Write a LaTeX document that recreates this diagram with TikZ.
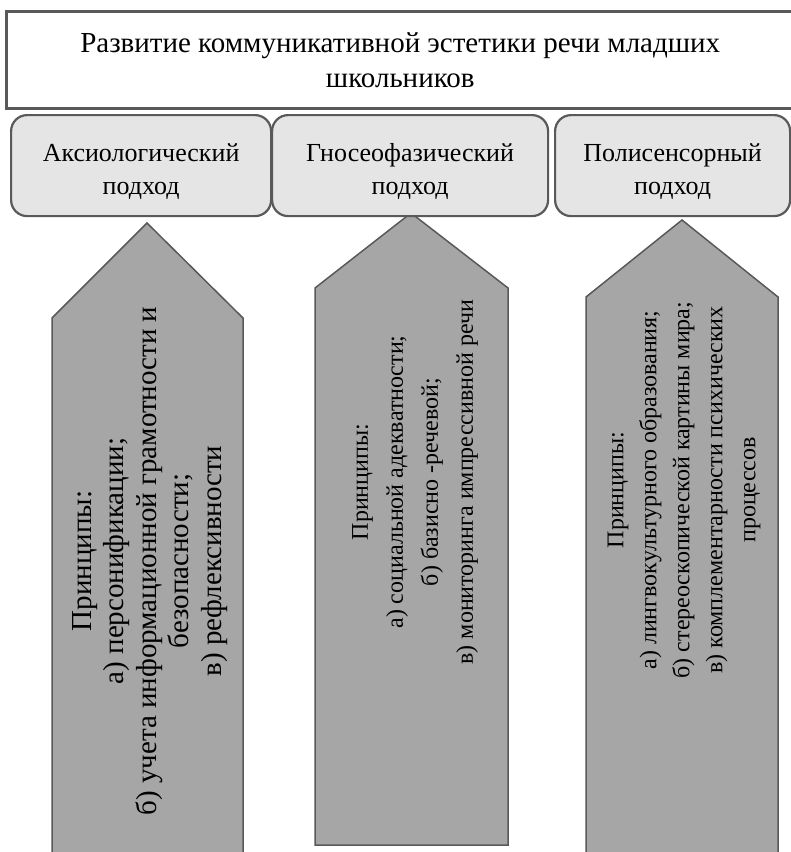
\documentclass[tikz,border=0pt]{standalone}
\usepackage{fontspec}
\setmainfont{Liberation Serif}
\begin{document}
\begin{tikzpicture}[x=1pt, y=-1pt]
    \tikzstyle{title_style} = [draw=black!65, line width=2.5pt, fill=white, inner sep=0pt, minimum width=788pt, minimum height=97pt, anchor=north west, align=center, font=\fontsize{29}{35}\selectfont]
    \tikzstyle{approach_style} = [draw=black!65, line width=2.2pt, fill=black!10, rounded corners=16pt, inner sep=0pt, minimum height=101pt, anchor=north west]
    \tikzstyle{approach_label} = [align=center, inner sep=0pt, yshift=-6pt, font=\fontsize{26}{33}\selectfont]
    \tikzstyle{arrow_style} = [draw=black!65, line width=1.5pt, fill=black!35]
    \tikzstyle{text_style} = [rotate=90, align=center, inner sep=0pt]

    \useasboundingbox (0,0) rectangle (791,852);

    % arrows with principles
    \filldraw[arrow_style] (52,856) -- (52,318) -- (147,223) -- (243,318) -- (243,856) -- cycle;
    \filldraw[arrow_style] (315,845) -- (315,288) -- (411,213) -- (508,288) -- (508,845) -- cycle;
    \filldraw[arrow_style] (586,856) -- (586,297) -- (682,220) -- (778,297) -- (778,856) -- cycle;

    \node[title_style] (goal) at (5,10) {Развитие коммуникативной эстетики речи младших\\школьников};

    \node[approach_style, minimum width=260pt] (axio) at (10,114) {};
    \node[approach_style, minimum width=276pt] (gnos) at (271,114) {};
    \node[approach_style, minimum width=235pt] (poly) at (554,114) {};
    \node[approach_label] (axio_label) at (axio.center) {Аксиологический\\подход};
    \node[approach_label] (gnos_label) at (gnos.center) {Гносеофазический\\подход};
    \node[approach_label] (poly_label) at (poly.center) {Полисенсорный\\подход};

    \node[text_style, font=\fontsize{29}{32.5}\selectfont] (axio_text) at (150,561) {Принципы:\\а) персонификации;\\б) учета информационной грамотности и\\безопасности;\\в) рефлексивности};
    \node[text_style, font=\fontsize{24}{35}\selectfont] (gnos_text) at (415,482) {Принципы:\\а) социальной адекватности;\\б) базисно -речевой;\\в) мониторинга импрессивной речи};
    \node[text_style, font=\fontsize{24}{33}\selectfont] (poly_text) at (684,490) {Принципы:\\а) лингвокультурного образования;\\б) стереоскопической картины мира;\\в) комплементарности психических\\процессов};
\end{tikzpicture}
\end{document}
